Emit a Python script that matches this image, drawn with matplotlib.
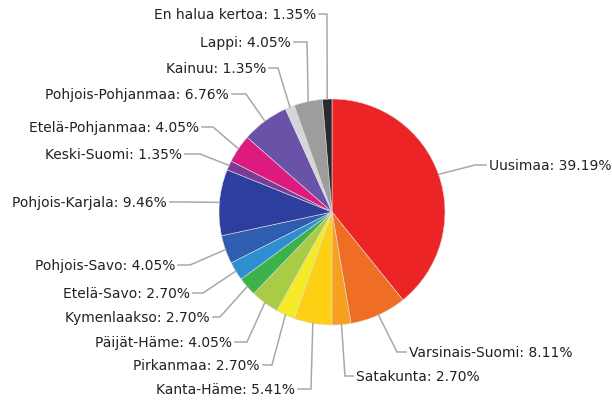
import numpy as np
import matplotlib
matplotlib.use('Agg')
from matplotlib import pyplot as plt

regions = ['Uusimaa', 'Varsinais-Suomi', 'Satakunta', 'Kanta-Häme', 'Pirkanmaa',
           'Päijät-Häme', 'Kymenlaakso', 'Etelä-Savo', 'Pohjois-Savo', 'Pohjois-Karjala',
           'Keski-Suomi', 'Etelä-Pohjanmaa', 'Pohjois-Pohjanmaa', 'Kainuu', 'Lappi',
           'En halua kertoa']
shares = [39.19, 8.11, 2.70, 5.41, 2.70, 4.05, 2.70, 2.70, 4.05, 9.46,
          1.35, 4.05, 6.76, 1.35, 4.05, 1.35]
colors = ['#ec2426', '#f06d25', '#f5a11d', '#fdd016', '#f4ea25', '#a9cb45',
          '#3bb24a', '#2d8fd2', '#2f5db0', '#2e3e9e', '#7a3c96', '#dd1a7e',
          '#6953a8', '#d6d6d8', '#9d9d9d', '#2a2a2e']

# label layout in pixels (from top-left): label y, elbow x, text x
label_y = [166, 353, 377, 390, 366, 343, 318, 294, 266, 203, 155, 128, 95, 69, 43, 15]
elbow_x = [475, 397, 345, 311, 272, 247, 220, 203, 190, 185, 200, 213, 246, 278, 307, 327]
text_x = [489, 409, 356, 295, 260, 232, 210, 190, 175, 167, 182, 199, 229, 266, 291, 316]

W, H = 612, 402
fig = plt.figure(figsize=(W / 100, H / 100), dpi=100)
ax = fig.add_axes([0, 0, 1, 1])

wedges, _ = ax.pie(shares, colors=colors, startangle=90, counterclock=False,
                   center=(332, H - 213), radius=113,
                   wedgeprops={'linewidth': 0.4, 'edgecolor': '#dddddd'})

for w, name, val, ly, ex, tx in zip(wedges, regions, shares, label_y, elbow_x, text_x):
    mid = np.deg2rad((w.theta1 + w.theta2) / 2)
    ax0 = w.center[0] + w.r * np.cos(mid)
    ay0 = w.center[1] + w.r * np.sin(mid)
    right = tx > ex
    end = tx - 3 if right else tx + 3
    ax.plot([ax0, ex, end], [ay0, H - ly, H - ly], color='#a8a8a8', lw=1.1,
            solid_joinstyle='miter')
    ax.text(tx, H - ly, '%s: %.2f%%' % (name, val), fontsize=10, color='#222222',
            ha='left' if right else 'right', va='center')

ax.set_xlim(0, W)
ax.set_ylim(0, H)
ax.set_aspect('equal')
ax.axis('off')

plt.savefig('out.png', dpi=100)
